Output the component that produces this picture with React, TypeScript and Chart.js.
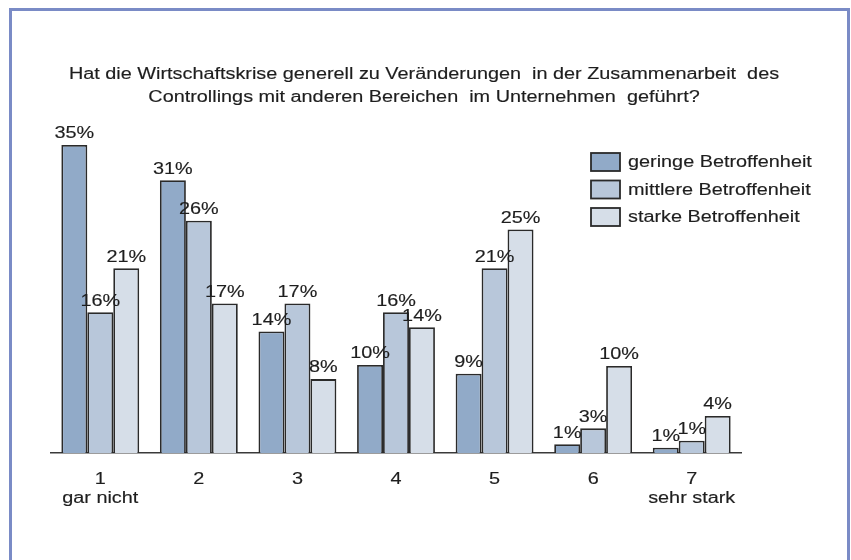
import React, { useEffect, useRef } from "react";
import { Chart, registerables } from "chart.js";

Chart.register(...registerables);

const categories = ["1", "2", "3", "4", "5", "6", "7"];
const categorySubLabels = ["gar nicht", "", "", "", "", "", "sehr stark"];
const seriesNames = ["geringe Betroffenheit", "mittlere Betroffenheit", "starke Betroffenheit"];
const geringe = [35, 31, 13.8, 10, 9, 1, 0.6];
const mittlere = [16, 26.4, 17, 16, 21, 2.8, 1.4];
const starke = [21, 17, 8.4, 14.3, 25.4, 9.9, 4.2];
const seriesColors = ["#91aac8", "#b8c7da", "#d6dee8"];
const titleLines = [
  "Hat die Wirtschaftskrise generell zu Veränderungen  in der Zusammenarbeit  des",
  "Controllings mit anderen Bereichen  im Unternehmen  geführt?",
];

const FONT = "'Liberation Sans', Arial, sans-serif";
const SX = 1.24; // horizontal stretch of the text in the original picture

function drawText(ctx: any, text: string, x: number, y: number, align: "left" | "center") {
  ctx.save();
  ctx.translate(x, y);
  ctx.scale(SX, 1);
  ctx.textAlign = align;
  ctx.textBaseline = "middle";
  ctx.fillText(text, 0, 0);
  ctx.lineWidth = 0.15;
  ctx.strokeStyle = ctx.fillStyle;
  ctx.strokeText(text, 0, 0);
  ctx.restore();
}

const textPlugin = {
  id: "stretchedText",
  afterDraw(chart: any) {
    const ctx = chart.ctx;
    ctx.save();
    ctx.font = `16px ${FONT}`;
    ctx.fillStyle = "#1e1e1e";

    // title
    drawText(ctx, titleLines[0], 424, 74.5, "center");
    drawText(ctx, titleLines[1], 424, 97.5, "center");

    // value labels
    chart.data.datasets.forEach((ds: any, i: number) => {
      const meta = chart.getDatasetMeta(i);
      meta.data.forEach((el: any, j: number) => {
        drawText(ctx, Math.round(ds.data[j]) + "%", el.x, el.y - 11, "center");
      });
    });

    // category labels
    const xs = chart.scales.x;
    const base = chart.chartArea.bottom;
    categories.forEach((c, i) => {
      const px = xs.getPixelForTick(i);
      drawText(ctx, c, px, base + 27, "center");
      if (categorySubLabels[i]) drawText(ctx, categorySubLabels[i], px, base + 45.5, "center");
    });

    // legend
    chart.data.datasets.forEach((ds: any, i: number) => {
      const cy = 162 + i * 27.5;
      ctx.fillStyle = ds.backgroundColor;
      ctx.fillRect(591, cy - 9, 29, 18);
      ctx.strokeStyle = "#2a2a2a";
      ctx.lineWidth = 1.8;
      ctx.strokeRect(591, cy - 9, 29, 18);
      ctx.fillStyle = "#1e1e1e";
      drawText(ctx, ds.label, 628, cy + 1, "left");
    });
    ctx.restore();
  },
};

export default function App() {
  const ref = useRef<HTMLCanvasElement>(null);
  useEffect(() => {
    if (!ref.current) return;
    const data = [geringe, mittlere, starke];
    const chart = new Chart(ref.current, {
      type: "bar",
      data: {
        labels: categories,
        datasets: seriesNames.map((name, i) => ({
          label: name,
          data: data[i],
          backgroundColor: seriesColors[i],
          borderColor: "#2a2a2a",
          borderWidth: 1.8,
          borderSkipped: "bottom",
          categoryPercentage: 0.79,
          barPercentage: 1,
        })),
      },
      options: {
        responsive: false,
        animation: false,
        layout: { padding: { left: 51, right: 110, top: 118.6, bottom: 0 } },
        plugins: {
          legend: { display: false },
          tooltip: { enabled: false },
          title: { display: false },
        },
        scales: {
          x: {
            grid: { display: false, drawTicks: false },
            border: { display: true, color: "#3a3a3a", width: 1.5 },
            ticks: { display: false },
            afterFit: (scale: any) => {
              scale.height = 107;
            },
          },
          y: {
            display: false,
            min: 0,
            max: 38,
          },
        },
      },
      plugins: [textPlugin],
    });
    return () => chart.destroy();
  }, []);
  return (
    <>
      <canvas
        ref={ref}
        width={851}
        height={560}
        style={{ position: "fixed", left: 0, top: 0, width: 851, height: 560, background: "#fff" }}
      />
      <div
        style={{
          position: "fixed",
          left: 9,
          top: 8,
          width: 841,
          height: 600,
          boxSizing: "border-box",
          border: "3px solid #7a8bc6",
          pointerEvents: "none",
        }}
      />
    </>
  );
}
